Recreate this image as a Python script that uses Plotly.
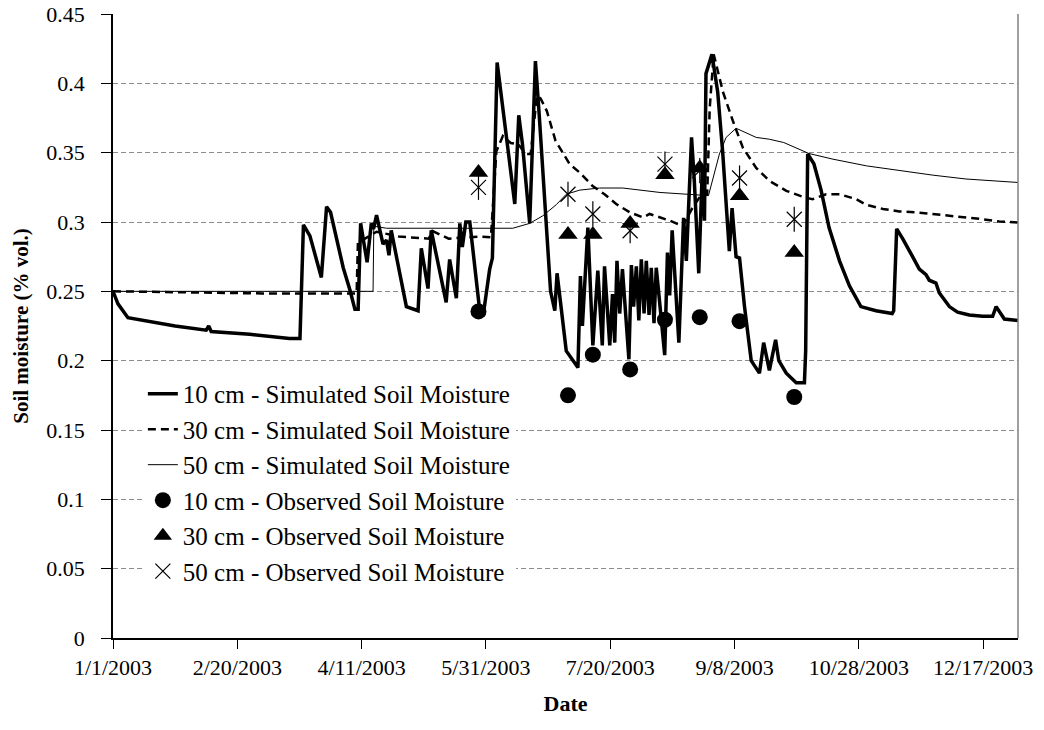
import pandas as pd
import plotly.graph_objects as go

# ---------------- data (day offsets from 1/1/2003, values in % vol.) ----------------
sim10_day = [0, 2, 6, 15, 25, 37.5, 38.5, 39.5, 55, 71, 75.2, 76.6, 79.2, 83.8, 85.9, 87.5,
             92.6, 95.3, 97.3, 98.6, 99.6, 102.2, 103.9, 104.8, 106, 108.6, 110, 111, 111.9,
             118, 122.7, 124, 126.7, 128, 134, 135.4, 138.1, 139.5, 140.5, 141.9, 143.5,
             147.5, 149, 151.5, 152.6, 154.5, 156.3, 159.6, 161.6, 163.2, 164.7, 167.6,
             169.9, 171.4, 176, 177.7, 178.6, 180, 182.3, 187, 188, 188.8, 191, 193, 195,
             196.8, 197.7, 199.8, 200.9, 201.8, 202.7, 203.8, 204.9, 207.5, 208.5, 209.4,
             210.5, 211.5, 212.5, 213.6, 214.5, 215.6, 216.5, 217.6, 218.5, 219.6, 221.9,
             223, 223.9, 224.9, 227.6, 229.5, 230.6, 232.7, 233.8, 235.6, 237, 237.9, 238.5,
             240.9, 243.2, 245.2, 247.2, 247.9, 249, 250.6, 252, 254, 256.7, 260, 261.7,
             264, 266.5, 267.8, 270.8, 274.8, 278.1, 278.6, 279.4, 281.9, 284.8, 288,
             292.2, 296.2, 300.8, 306.9, 313.4, 314, 315.2, 317.6, 321.6, 324.3, 327,
             328.3, 331, 332.3, 336.4, 339.7, 344.4, 349.8, 353.8, 355.2, 358.5, 364]
sim10_val = [0.250, 0.241, 0.231, 0.228, 0.225, 0.222, 0.225, 0.221, 0.219, 0.216, 0.216, 0.298,
             0.290, 0.260, 0.311, 0.307, 0.267, 0.251, 0.237, 0.237, 0.299, 0.271, 0.299,
             0.295, 0.305, 0.284, 0.287, 0.276, 0.294, 0.239, 0.236, 0.281, 0.252, 0.294,
             0.242, 0.273, 0.245, 0.299, 0.282, 0.300, 0.300, 0.236, 0.234, 0.266, 0.274,
             0.415, 0.390, 0.344, 0.313, 0.377, 0.356, 0.299, 0.416, 0.378, 0.250, 0.236,
             0.263, 0.242, 0.207, 0.195, 0.261, 0.225, 0.296, 0.211, 0.265, 0.211, 0.268,
             0.211, 0.248, 0.213, 0.272, 0.234, 0.266, 0.201, 0.269, 0.239, 0.268, 0.229,
             0.273, 0.234, 0.272, 0.233, 0.267, 0.227, 0.267, 0.247, 0.204, 0.278, 0.247,
             0.294, 0.213, 0.303, 0.272, 0.361, 0.330, 0.263, 0.337, 0.301, 0.407, 0.421,
             0.394, 0.351, 0.303, 0.279, 0.310, 0.275, 0.274, 0.239, 0.200, 0.191, 0.213,
             0.193, 0.215, 0.200, 0.191, 0.184, 0.184, 0.207, 0.349, 0.342, 0.323, 0.296,
             0.272, 0.254, 0.239, 0.236, 0.234, 0.236, 0.295, 0.288, 0.275, 0.266, 0.262,
             0.258, 0.256, 0.249, 0.239, 0.235, 0.233, 0.232, 0.232, 0.239, 0.230, 0.229]

sim30_day = [0, 30, 60, 98, 98.5, 106, 115, 127, 128.5, 135, 147, 152, 153.5, 154.2, 156.8,
             160, 163, 166, 168, 170.5, 172, 174.5, 178, 183.7, 187.7, 192.9, 197.7, 202.4,
             207.8, 213.2, 215.8, 219.9, 223.9, 229.2, 233, 236, 239, 240, 241.6, 245.3,
             249.3, 253.3, 258.7, 264, 270.8, 278.1, 281.4, 286.8, 292.2, 298.9, 302.9,
             309.7, 316.3, 323, 329.7, 336.4, 343.1, 349.8, 356.5, 364]
sim30_val = [0.250, 0.249, 0.2485, 0.2485, 0.285, 0.293, 0.2895, 0.288, 0.2935, 0.288, 0.2895,
             0.289, 0.330, 0.351, 0.362, 0.357, 0.356, 0.349, 0.349, 0.391, 0.389, 0.380,
             0.3585, 0.3417, 0.3357, 0.326, 0.320, 0.313, 0.307, 0.3033, 0.3058, 0.3033,
             0.301, 0.297, 0.310, 0.318, 0.320, 0.382, 0.421, 0.394, 0.373, 0.3537, 0.339,
             0.3297, 0.3225, 0.3177, 0.3165, 0.320, 0.320, 0.3165, 0.3125, 0.3094, 0.3076,
             0.307, 0.3058, 0.3045, 0.3033, 0.302, 0.3004, 0.2997]

sim50_day = [0, 104.6, 104.9, 110, 160.8, 167.6, 172.9, 178.3, 182.3, 187.7, 195.7, 205, 220,
             229.2, 239.5, 243.9, 246.6, 250.6, 258.7, 264, 269.8, 279.9, 289.6, 303, 316.3,
             329.7, 343.1, 364]
sim50_val = [0.250, 0.250, 0.297, 0.2955, 0.2955, 0.299, 0.3045, 0.3125, 0.320, 0.323, 0.3245,
             0.3245, 0.3213, 0.320, 0.319, 0.349, 0.361, 0.3676, 0.361, 0.3597, 0.3573,
             0.3494, 0.3453, 0.3405, 0.3369, 0.3338, 0.331, 0.3285]

obs_dates = ["2003-05-28", "2003-07-03", "2003-07-13", "2003-07-28", "2003-08-11",
             "2003-08-25", "2003-09-10", "2003-10-02"]
obs10_val = [0.2355, 0.175, 0.2043, 0.1937, 0.2295, 0.2314, 0.2285, 0.1738]
obs30_val = [0.3357, 0.291, 0.291, 0.299, 0.334, 0.339, 0.319, 0.278]
obs50_val = [0.325, 0.320, 0.3058, 0.2937, 0.3417, 0.337, 0.3317, 0.302]

x_tick_vals = ["2003-01-01", "2003-02-20", "2003-04-11", "2003-05-31", "2003-07-20",
               "2003-09-08", "2003-10-28", "2003-12-17"]
x_tick_text = ["1/1/2003", "2/20/2003", "4/11/2003", "5/31/2003", "7/20/2003",
               "9/8/2003", "10/28/2003", "12/17/2003"]
y_tick_vals = [0, 0.05, 0.1, 0.15, 0.2, 0.25, 0.3, 0.35, 0.4, 0.45]
y_tick_text = ["0", "0.05", "0.1", "0.15", "0.2", "0.25", "0.3", "0.35", "0.4", "0.45"]

names = ["10 cm - Simulated Soil Moisture", "30 cm - Simulated Soil Moisture",
         "50 cm - Simulated Soil Moisture", "10 cm - Observed Soil Moisture",
         "30 cm - Observed Soil Moisture", "50 cm - Observed Soil Moisture"]

start = pd.Timestamp("2003-01-01")


def to_dates(days):
    return start + pd.to_timedelta(days, unit="D")


FONT = "Liberation Serif"

fig = go.Figure()
fig.add_trace(go.Scatter(x=to_dates(sim10_day), y=sim10_val, mode="lines", name=names[0],
                         legendgroup="g1", line=dict(color="black", width=3.5)))
fig.add_trace(go.Scatter(x=to_dates(sim30_day), y=sim30_val, mode="lines", name=names[1],
                         legendgroup="g2", line=dict(color="black", width=2.5, dash="8px,5px")))
fig.add_trace(go.Scatter(x=to_dates(sim50_day), y=sim50_val, mode="lines", name=names[2],
                         legendgroup="g3", line=dict(color="black", width=1)))
fig.add_trace(go.Scatter(x=obs_dates, y=obs10_val, mode="markers", name=names[3],
                         legendgroup="g4",
                         marker=dict(symbol="circle", size=16, color="black")))
fig.add_trace(go.Scatter(x=obs_dates, y=obs30_val, mode="markers", name=names[4],
                         legendgroup="g5",
                         marker=dict(symbol="triangle-up", size=17, color="black")))
fig.add_trace(go.Scatter(x=obs_dates, y=obs50_val, mode="markers", name=names[5],
                         legendgroup="g6",
                         marker=dict(symbol="x-thin-open", size=15, color="black",
                                     line=dict(color="black", width=1.2))))
fig.add_trace(go.Scatter(x=obs_dates, y=obs50_val, mode="markers", showlegend=False,
                         legendgroup="g6", hoverinfo="skip",
                         marker=dict(symbol="line-ns-open", size=18, color="black",
                                     line=dict(color="black", width=1.2))))

fig.update_layout(
    width=1044, height=730,
    margin=dict(l=113, r=26, t=14, b=92, autoexpand=False),
    paper_bgcolor="white", plot_bgcolor="white",
    font=dict(family=FONT, color="black", size=22),
    showlegend=True,
    legend=dict(x=0.033, y=0.428, xanchor="left", yanchor="top",
                bgcolor="white", borderwidth=0,
                font=dict(family=FONT, size=25, color="black"),
                traceorder="grouped", tracegroupgap=0),
    xaxis=dict(type="date", range=["2003-01-01", "2003-12-31"], automargin=False,
               tickvals=x_tick_vals, ticktext=x_tick_text,
               ticks="outside", ticklen=9, tickcolor="black", tickwidth=1,
               showline=True, linecolor="black", linewidth=1.5,
               showgrid=False, zeroline=False, ticklabeloverflow="allow",
               tickfont=dict(family=FONT, size=22),
               title=dict(text="<b>Date</b>", font=dict(family=FONT, size=22), standoff=16)),
    yaxis=dict(range=[0, 0.45], tickvals=y_tick_vals, ticktext=y_tick_text, automargin=False,
               ticks="outside", ticklen=10, tickcolor="black", tickwidth=1,
               showline=True, linecolor="black", linewidth=1.5,
               showgrid=True, gridcolor="#8c8c8c", gridwidth=1, griddash="5px,3px",
               zeroline=False, ticklabelstandoff=12, ticklabeloverflow="allow",
               tickfont=dict(family=FONT, size=22),
               title=dict(text="<b>Soil moisture (% vol.)</b>",
                          font=dict(family=FONT, size=21), standoff=12)),
    shapes=[dict(type="line", xref="paper", yref="paper", x0=1, x1=1, y0=0, y1=1,
                 line=dict(color="#808080", width=1.5))],
)

# Remove the default 8px page margin so the figure fills the 1044x730 window.
fig.write_html("out.html", config={"displayModeBar": False},
               post_script="document.body.style.margin='0';document.body.style.overflow='hidden';")
